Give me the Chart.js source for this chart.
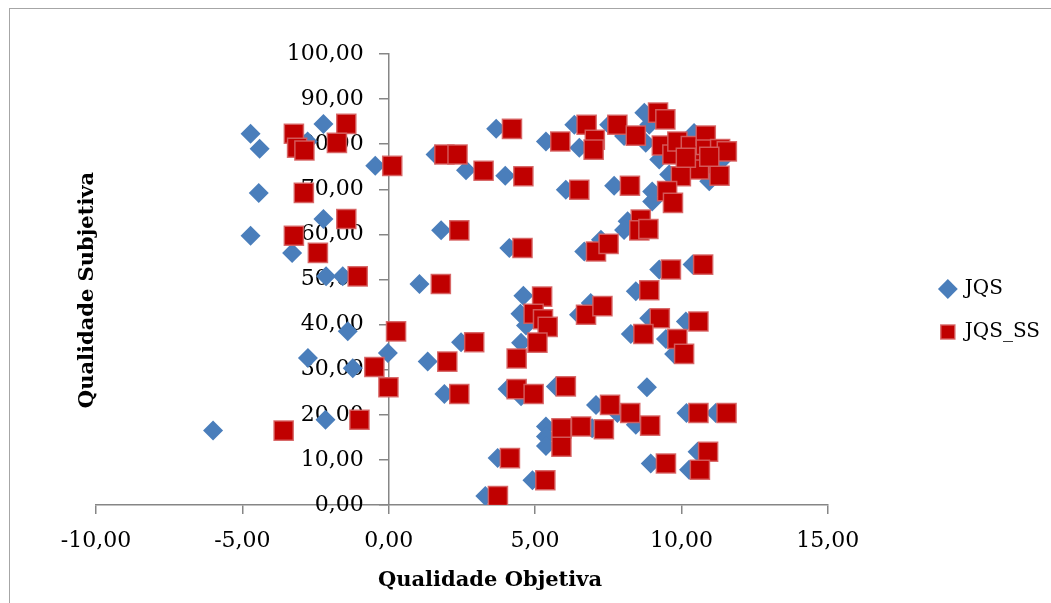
<!DOCTYPE html>
<html>
<head>
<meta charset="utf-8">
<script src="https://cdn.jsdelivr.net/npm/chart.js@4.4.1/dist/chart.umd.min.js"></script>
<style>
html, body { margin: 0; padding: 0; background: #fff; overflow: hidden; }
#frame { position: absolute; left: 9px; top: 8px; width: 1200px; height: 800px; border: 1.5px solid #a6a6a6; }
#wrap { position: absolute; left: 0; top: 0; width: 1051px; height: 603px; }
</style>
</head>
<body>
<div id="frame"></div>
<div id="wrap"><canvas id="chart"></canvas></div>
<script>
"use strict";

var seriesNames = ["JQS", "JQS_SS"];
var xTitle = "Qualidade Objetiva";
var yTitle = "Qualidade Subjetiva";
var xTicks = [-10, -5, 0, 5, 10, 15];
var yTicks = [0, 10, 20, 30, 40, 50, 60, 70, 80, 90, 100];

// JQS (diamonds)
var jqsX = [-4.72, -4.41, -2.77, -2.23, -0.46, -4.44, -2.23, -4.72, -3.3, -2.14, -1.57, 1.05, -6.0, -1.4, -2.76, -1.23, -0.03, 1.33, 1.9, -2.16,
    3.67, 1.6, 2.0, 2.64, 3.98, 5.37, 6.34, 6.51, 7.53, 6.05, 7.7, 1.79, 4.12, 6.68, 7.25,
    4.6, 4.5, 4.69, 6.5, 6.9, 2.47, 4.52, 4.06, 4.52, 5.71, 7.08, 5.37, 5.37, 5.37, 6.95, 3.72, 4.91, 3.3,
    8.73, 8.9, 8.04, 8.78, 9.24, 9.58, 10.43, 11.4, 10.95, 9.0, 9.0, 9.9, 10.4, 10.6, 8.16, 8.04, 9.24, 10.38, 8.44,
    8.9, 10.15, 8.27, 9.47, 8.82, 7.81, 8.44, 10.17, 11.17, 10.55, 10.26, 8.95, 9.75];
var jqsY = [82.3, 79.0, 80.6, 84.5, 75.2, 69.2, 63.4, 59.7, 55.9, 50.7, 50.7, 49.0, 16.5, 38.5, 32.6, 30.3, 33.7, 31.8, 24.6, 18.9,
    83.4, 77.7, 77.7, 74.2, 73.0, 80.6, 84.3, 79.2, 84.3, 69.9, 70.8, 60.9, 57.0, 56.2, 58.8,
    46.4, 42.4, 39.8, 42.2, 44.8, 36.1, 36.0, 25.7, 24.1, 26.3, 22.2, 17.4, 15.2, 13.1, 17.0, 10.4, 5.5, 2.0,
    87.0, 84.3, 81.8, 80.3, 76.6, 73.3, 82.5, 76.6, 71.8, 69.5, 67.3, 79.5, 76.5, 78.5, 62.9, 61.0, 52.2, 53.3, 47.4,
    41.4, 40.7, 37.9, 36.8, 26.1, 20.4, 17.8, 20.4, 20.4, 11.8, 7.8, 9.2, 33.5];

// JQS_SS (squares)
var jqsSsX = [-3.24, -3.13, -2.88, -1.45, -1.77, 0.12, -2.9, -1.45, -3.24, -2.42, -1.06, 1.78, -3.59, 0.25, -0.49, -0.01, 2.0, 2.41, -1.0,
    4.21, 1.9, 2.35, 3.24, 4.6, 5.86, 6.76, 7.04, 7.0, 6.51, 2.41, 4.57, 7.08, 7.51,
    5.24, 4.95, 5.27, 5.43, 6.74, 7.3, 2.92, 5.08, 4.37, 4.37, 4.95, 6.05, 7.56, 5.9, 6.57, 7.35, 5.9, 4.14, 5.35, 3.73,
    9.2, 9.45, 7.81, 8.44, 9.33, 9.69, 9.86, 10.32, 10.83, 10.83, 11.32, 11.55, 10.8, 10.32, 10.6, 9.98, 11.3, 10.15, 10.95,
    9.51, 9.71, 8.24, 8.61, 8.56, 8.87, 9.64, 10.74, 8.9, 9.26, 10.58, 8.7, 9.86, 10.09, 8.25, 8.93, 10.58, 11.54, 10.91, 10.63, 9.47];
var jqsSsY = [82.3, 79.2, 78.6, 84.5, 80.3, 75.2, 69.2, 63.4, 59.7, 55.9, 50.7, 49.0, 16.5, 38.5, 30.6, 26.1, 31.8, 24.6, 18.9,
    83.4, 77.7, 77.7, 74.1, 72.9, 80.6, 84.3, 81.0, 78.8, 69.9, 60.9, 57.0, 56.2, 57.9,
    46.2, 42.4, 41.2, 39.5, 42.2, 44.1, 36.1, 36.0, 32.5, 25.7, 24.6, 26.3, 22.2, 17.0, 17.4, 16.8, 12.9, 10.4, 5.5, 2.0,
    87.0, 85.5, 84.3, 81.9, 79.7, 77.7, 80.6, 79.6, 81.9, 78.8, 78.9, 78.4, 75.5, 75.6, 74.4, 72.9, 73.0, 77.0, 77.2,
    69.6, 67.0, 70.8, 63.3, 60.9, 61.2, 52.2, 53.3, 47.6, 41.4, 40.7, 37.9, 36.8, 33.5, 20.4, 17.6, 20.4, 20.4, 11.8, 7.8, 9.2];

var FONT = "'DejaVu Serif', serif";
var AXIS_GRAY = "#868686";

function toPoints(xs, ys) {
    var pts = [];
    xs.forEach(function(x, i) {
        pts.push({ x: x, y: ys[i] });
    });
    return pts;
}

function fmt(v) {
    return Number(v).toFixed(2).replace(".", ",");
}

// y labels sit right-aligned on the axis line when the axis is placed at x=0,
// so pad them with a figure space + en space to clear the tick marks
function fmtY(v) {
    return fmt(v) + "\u2007\u2002";
}

function fixedTicks(list) {
    return function(axis) {
        axis.ticks = list.map(function(v) { return { value: v }; });
    };
}

// axis titles sit where the spreadsheet put them, not where Chart.js would
var axisTitles = {
    id: "axisTitles",
    afterDraw: function(chart) {
        var ctx = chart.ctx;
        ctx.save();
        ctx.fillStyle = "#000";
        ctx.font = "bold 21px " + FONT;
        ctx.textAlign = "center";
        ctx.textBaseline = "middle";
        ctx.fillText(xTitle, 490, 581);
        ctx.translate(88, 290);
        ctx.rotate(-Math.PI / 2);
        ctx.fillText(yTitle, 0, 0);
        ctx.restore();
    }
};

new Chart(document.getElementById("chart"), {
    type: "scatter",
    data: {
        datasets: [
            {
                label: seriesNames[0],
                data: toPoints(jqsX, jqsY),
                pointStyle: "rectRot",
                pointRadius: 10,
                pointHoverRadius: 10,
                backgroundColor: "#4A7EBB",
                borderColor: "#4A7EBB",
                borderWidth: 0,
                order: 2,
                yAxisID: "y"
            },
            {
                label: seriesNames[1],
                data: toPoints(jqsSsX, jqsSsY),
                pointStyle: "rect",
                pointRadius: 13.5,
                pointHoverRadius: 13.5,
                backgroundColor: "#C00000",
                borderColor: "rgba(214, 96, 96, 0.9)",
                borderWidth: 1.5,
                order: 1,
                yAxisID: "y"
            }
        ]
    },
    options: {
        responsive: true,
        maintainAspectRatio: false,
        animation: false,
        layout: { padding: { left: 96, top: 54, right: 1, bottom: 36 } },
        plugins: {
            tooltip: { enabled: false },
            legend: {
                position: "right",
                labels: {
                    usePointStyle: true,
                    boxWidth: 14,
                    boxHeight: 14,
                    padding: 23,
                    color: "#000",
                    font: { family: FONT, size: 20 },
                    sort: function(a, b) { return a.datasetIndex - b.datasetIndex; }
                }
            }
        },
        scales: {
            x: {
                type: "linear",
                position: "bottom",
                min: -10,
                max: 15,
                afterBuildTicks: fixedTicks(xTicks),
                afterFit: function(axis) { axis.height = 62; },
                ticks: { callback: fmt, color: "#000", padding: 14, maxRotation: 0, autoSkip: false, font: { family: FONT, size: 22 } },
                grid: { drawOnChartArea: false, drawTicks: true, tickLength: 9, color: AXIS_GRAY, lineWidth: 1.5 },
                border: { color: AXIS_GRAY, width: 1.5 }
            },
            y: {
                type: "linear",
                position: { x: 0 },
                min: 0,
                max: 100,
                afterBuildTicks: fixedTicks(yTicks),
                ticks: { callback: fmtY, color: "#000", autoSkip: false, font: { family: FONT, size: 22 } },
                grid: { drawOnChartArea: false, drawTicks: true, tickLength: 9, color: AXIS_GRAY, lineWidth: 1.5 },
                border: { color: AXIS_GRAY, width: 1.5 }
            },
            gap: {
                type: "linear",
                position: "right",
                display: true,
                afterFit: function(axis) { axis.width = 90; },
                ticks: { display: false },
                grid: { display: false },
                border: { display: false }
            }
        }
    },
    plugins: [axisTitles]
});
</script>
</body>
</html>
